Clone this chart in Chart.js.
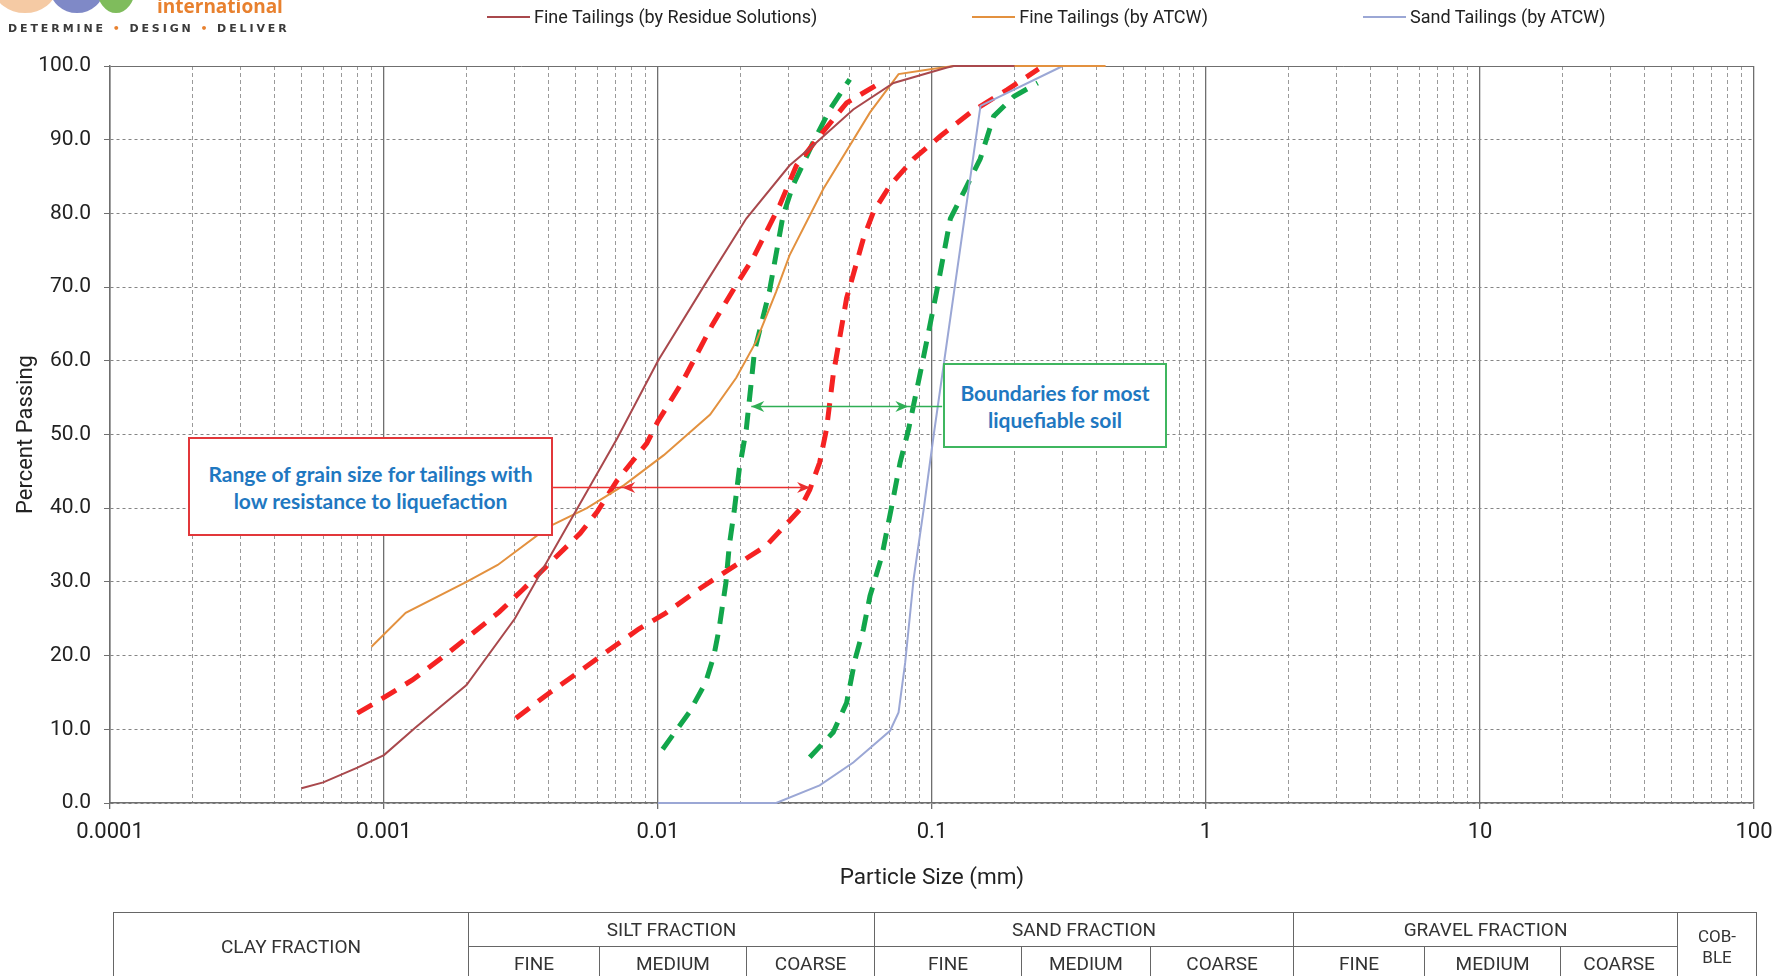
<!DOCTYPE html>
<html>
<head>
<meta charset="utf-8">
<title>Particle size distribution - tailings</title>
<script src="https://cdn.jsdelivr.net/npm/chart.js@4.4.1/dist/chart.umd.min.js"></script>
<style>
    html, body { margin: 0; padding: 0; background: #fff; }
    body { width: 1783px; height: 976px; overflow: hidden; position: relative; font-family: Roboto, "Noto Sans", sans-serif; }
    #wrap { position: absolute; left: 0; top: 0; width: 1783px; height: 976px; }

    /* --- logo (cut off at the top, like the source) --- */
    .petal { position: absolute; top: -36px; height: 49px; border-radius: 50%; }
    .intl { position: absolute; left: 157px; top: -3px; font: bold 19px "Open Sans", sans-serif; color: #e8812f; line-height: 1; }
    .tag { position: absolute; left: 8px; top: 22px; font: bold 11px "DejaVu Sans", sans-serif; color: #3a3a3a; letter-spacing: 2.9px; white-space: nowrap; }
    .tag span { color: #e8812f; }

    /* --- legend --- */
    #legend { position: absolute; left: 487px; top: 6px; display: flex; align-items: center; font-size: 18px; color: #222; white-space: nowrap; }
    #legend .item { display: flex; align-items: center; margin-right: 155px; }
    #legend .swatch { width: 43px; height: 2px; margin-right: 4px; }

    /* --- annotation boxes --- */
    .note { position: absolute; box-sizing: border-box; background: #fff; display: flex; align-items: center; justify-content: center;
            text-align: center; font: bold 21px Lato, sans-serif; line-height: 27px; color: #1f78c1; }
    #noteRed { left: 188px; top: 437px; width: 365px; height: 99px; border: 2px solid #e2373a; }
    #noteGreen { left: 943px; top: 363px; width: 224px; height: 85px; border: 2px solid #3fb65f; }

    /* --- soil fraction table --- */
    #fractions { position: absolute; left: 113px; top: 912px; border-collapse: collapse; table-layout: fixed; width: 1643px; }
    #fractions td { border: 1.5px solid #666; text-align: center; font-size: 19px; color: #333; height: 33px; padding: 0; line-height: 21px; }
</style>
</head>
<body>
<div id="wrap"><canvas id="psd"></canvas></div>

<div class="petal" style="left:-6px;width:62px;background:#f5caa4;"></div>
<div class="petal" style="left:50px;width:54px;background:#7f89c7;"></div>
<div class="petal" style="left:97px;width:38px;background:#7fbc5c;"></div>
<div class="intl">international</div>
<div class="tag">DETERMINE <span>•</span> DESIGN <span>•</span> DELIVER</div>

<div id="legend"></div>

<div class="note" id="noteRed">Range of grain size for tailings with<br>low resistance to liquefaction</div>
<div class="note" id="noteGreen">Boundaries for most<br>liquefiable soil</div>

<table id="fractions">
    <colgroup>
        <col style="width:355px"><col style="width:131px"><col style="width:147px"><col style="width:128px">
        <col style="width:147px"><col style="width:129px"><col style="width:143px">
        <col style="width:131px"><col style="width:136px"><col style="width:117px"><col style="width:79px">
    </colgroup>
    <tr>
        <td rowspan="2">CLAY FRACTION</td>
        <td colspan="3">SILT FRACTION</td>
        <td colspan="3">SAND FRACTION</td>
        <td colspan="3">GRAVEL FRACTION</td>
        <td rowspan="2" style="font-size:17px">COB-<br>BLE</td>
    </tr>
    <tr>
        <td>FINE</td><td>MEDIUM</td><td>COARSE</td>
        <td>FINE</td><td>MEDIUM</td><td>COARSE</td>
        <td>FINE</td><td>MEDIUM</td><td>COARSE</td>
    </tr>
</table>

<script>
// ===========================================
// DATA
// ===========================================

// x axis: particle size (mm), log scale, one label per decade
const xTickLabels = ['0.0001', '0.001', '0.01', '0.1', '1', '10', '100'];
// y axis: percent passing
const yMin = 0, yMax = 100, yStep = 10;

// Fine Tailings (by Residue Solutions)
const residueSize = [0.0005, 0.0006, 0.0008, 0.001, 0.0013, 0.002, 0.003, 0.004, 0.0071, 0.01, 0.0148, 0.021, 0.0302, 0.0368, 0.0516, 0.0724, 0.1135, 0.12, 0.2];
const residuePass = [2.0, 2.8, 4.8, 6.5, 10.2, 16.0, 25.0, 33.2, 49.5, 60.0, 70.3, 79.3, 86.5, 89.2, 94.1, 97.7, 99.8, 100, 100];

// Fine Tailings (by ATCW)
const atcwFineSize = [0.0009, 0.0012, 0.002, 0.0026, 0.004, 0.0055, 0.0075, 0.0105, 0.0155, 0.0193, 0.0228, 0.027, 0.0302, 0.0401, 0.0594, 0.0755, 0.1, 0.12, 0.43];
const atcwFinePass = [21.2, 25.8, 30.0, 32.3, 37.5, 40.0, 43.1, 47.2, 52.7, 57.7, 62.6, 69.4, 74.3, 83.3, 93.7, 98.9, 99.6, 100, 100];

// Sand Tailings (by ATCW)
const atcwSandSize = [0.01, 0.027, 0.0389, 0.0516, 0.0703, 0.0755, 0.0798, 0.0857, 0.0932, 0.1015, 0.1503, 0.3];
const atcwSandPass = [0, 0, 2.4, 5.5, 9.8, 12.3, 19.0, 30.4, 39.8, 50.0, 94.6, 100];

// range for tailings with low resistance to liquefaction (red dashed)
const lowResLowerSize = [0.0008, 0.00095, 0.00127, 0.00168, 0.00207, 0.00263, 0.0032, 0.0052, 0.006, 0.0071, 0.0091, 0.01, 0.0123, 0.0158, 0.0193, 0.0222, 0.0278, 0.032, 0.0389, 0.0488, 0.0646];
const lowResLowerPass = [12.2, 13.8, 16.7, 20.1, 22.8, 25.9, 28.9, 36.6, 39.5, 43.8, 48.8, 51.8, 57.2, 64.9, 70.3, 73.9, 81.1, 86.5, 90.5, 95.0, 97.7];
const lowResUpperSize = [0.00303, 0.004, 0.00515, 0.00643, 0.0085, 0.0107, 0.0141, 0.0182, 0.0248, 0.0302, 0.0329, 0.0358, 0.0389, 0.0412, 0.0436, 0.0488, 0.0562, 0.0611, 0.0703, 0.0857, 0.1074, 0.1384, 0.1884, 0.245];
const lowResUpperPass = [11.5, 14.9, 17.8, 20.4, 23.6, 25.8, 29.0, 31.7, 34.9, 38.3, 39.8, 42.5, 46.2, 50.7, 58.1, 68.5, 76.6, 80.2, 83.8, 87.4, 90.5, 93.7, 96.8, 99.6];

// boundaries for most liquefiable soil (green dashed)
const liqLowerSize = [0.0104, 0.013, 0.0149, 0.016, 0.0167, 0.0177, 0.0182, 0.019, 0.0198, 0.021, 0.0225, 0.0255, 0.0286, 0.0311, 0.0368, 0.0424, 0.0501];
const liqLowerPass = [7.3, 12.3, 16.3, 20.0, 23.6, 29.9, 34.9, 39.8, 45.3, 50.7, 61.3, 69.4, 79.7, 83.8, 89.6, 94.1, 98.2];
const liqUpperSize = [0.0358, 0.0436, 0.0488, 0.0524, 0.0562, 0.0594, 0.0656, 0.0713, 0.0765, 0.082, 0.093, 0.104, 0.1167, 0.1306, 0.15, 0.168, 0.1995, 0.243];
const liqUpperPass = [6.2, 9.6, 13.6, 19.5, 23.6, 28.1, 33.5, 40.3, 46.2, 50.6, 60.4, 69.4, 79.3, 82.9, 87.4, 93.2, 95.9, 97.7];

// annotation arrows: [start, end] of the line, heads (first points left, second right), percent level
const redArrowLine = [0.00414, 0.0359];
const redArrowHeads = [0.0074, 0.0359];
const redArrowAt = 42.8;
const greenArrowLine = [0.0219, 0.1089];
const greenArrowHeads = [0.0219, 0.082];
const greenArrowAt = 53.8;

// ===========================================
// HELPERS
// ===========================================

const pts = (xs, ys) => xs.map((x, i) => ({ x: x, y: ys[i] }));
const decades = xTickLabels.map(Number);

// 1..9 x 10^n ticks, decades flagged as major
function buildLogTicks(scale) {
    const ticks = [];
    decades.forEach((d, i) => {
        ticks.push({ value: d, major: true });
        if (i < decades.length - 1) {
            for (let k = 2; k <= 9; k++) ticks.push({ value: +(d * k).toPrecision(3), major: false });
        }
    });
    scale.ticks = ticks;
}

function decadeLabel(value) {
    const i = decades.findIndex(d => Math.abs(d - value) / d < 1e-6);
    return i >= 0 ? xTickLabels[i] : '';
}

function drawSpan(ctx, x, y, line, heads, at, color) {
    const py = y.getPixelForValue(at);
    ctx.save();
    ctx.strokeStyle = color;
    ctx.fillStyle = color;
    ctx.lineWidth = 1.6;
    ctx.beginPath();
    ctx.moveTo(x.getPixelForValue(line[0]), py);
    ctx.lineTo(x.getPixelForValue(line[1]), py);
    ctx.stroke();
    heads.forEach((h, i) => {
        const px = x.getPixelForValue(h);
        const dir = i === 0 ? -1 : 1;
        ctx.beginPath();
        ctx.moveTo(px, py);
        ctx.lineTo(px - dir * 13, py - 5.5);
        ctx.lineTo(px - dir * 9, py);
        ctx.lineTo(px - dir * 13, py + 5.5);
        ctx.closePath();
        ctx.fill();
    });
    ctx.restore();
}

// arrows between the annotation boxes and the curves
const arrowPlugin = {
    id: 'rangeArrows',
    afterDatasetsDraw(chart) {
        const { ctx, scales } = chart;
        drawSpan(ctx, scales.x, scales.y, redArrowLine, redArrowHeads, redArrowAt, '#ea3030');
        drawSpan(ctx, scales.x, scales.y, greenArrowLine, greenArrowHeads, greenArrowAt, '#2fae55');
    }
};

// legend spread out over the top, like the source
const htmlLegend = {
    id: 'htmlLegend',
    afterUpdate(chart) {
        const box = document.getElementById('legend');
        box.innerHTML = '';
        chart.data.datasets.forEach(ds => {
            if (!ds.inLegend) return;
            const item = document.createElement('div');
            item.className = 'item';
            const sw = document.createElement('span');
            sw.className = 'swatch';
            sw.style.background = ds.borderColor;
            const txt = document.createElement('span');
            txt.textContent = ds.label;
            item.appendChild(sw);
            item.appendChild(txt);
            box.appendChild(item);
        });
    }
};

// ===========================================
// CHART
// ===========================================

const solid = (label, xs, ys, color) => ({
    label: label, data: pts(xs, ys), borderColor: color, borderWidth: 2, inLegend: true, clip: 4
});
const dashed = (label, xs, ys, color) => ({
    label: label, data: pts(xs, ys), borderColor: color, borderWidth: 5, borderDash: [17, 11], borderCapStyle: 'butt', inLegend: false
});

new Chart(document.getElementById('psd'), {
    type: 'line',
    data: {
        datasets: [
            solid('Fine Tailings (by Residue Solutions)', residueSize, residuePass, '#a9484c'),
            solid('Fine Tailings (by ATCW)', atcwFineSize, atcwFinePass, '#e3913f'),
            solid('Sand Tailings (by ATCW)', atcwSandSize, atcwSandPass, '#9ba7d5'),
            dashed('Low resistance - lower', lowResLowerSize, lowResLowerPass, '#f52222'),
            dashed('Low resistance - upper', lowResUpperSize, lowResUpperPass, '#f52222'),
            dashed('Most liquefiable - lower', liqLowerSize, liqLowerPass, '#12a64b'),
            dashed('Most liquefiable - upper', liqUpperSize, liqUpperPass, '#12a64b')
        ]
    },
    options: {
        responsive: true,
        maintainAspectRatio: false,
        animation: false,
        layout: { padding: { top: 66, right: 29, bottom: 84, left: 0 } },
        elements: { point: { radius: 0 }, line: { tension: 0, fill: false } },
        plugins: { legend: { display: false }, tooltip: { enabled: false } },
        scales: {
            x: {
                type: 'logarithmic',
                min: 0.0001,
                max: 100,
                afterBuildTicks: buildLogTicks,
                afterFit: s => { s.height = 89; },
                ticks: { autoSkip: false, maxRotation: 0, minRotation: 0, padding: 10, color: '#222', font: { family: 'Roboto', size: 22 }, callback: v => decadeLabel(v) },
                grid: {
                    color: c => c.tick && c.tick.major ? '#6f6f6f' : '#9a9a9a',
                    lineWidth: c => c.tick && c.tick.major ? 1.3 : 1,
                    tickLength: 6,
                    tickColor: c => c.tick && c.tick.major ? '#6f6f6f' : 'rgba(0,0,0,0)'
                },
                border: { color: '#6f6f6f', width: 1.5, dash: c => c.tick && c.tick.major ? [] : [4, 3] },
                title: { display: true, text: 'Particle Size (mm)', color: '#222', font: { family: 'Roboto', size: 22.5 }, padding: { top: 0, bottom: 0 } }
            },
            y: {
                min: yMin,
                max: yMax,
                afterFit: s => { s.width = 110; },
                ticks: { stepSize: yStep, padding: 13, color: '#222', font: { family: 'Roboto', size: 21 }, callback: v => v.toFixed(1) },
                grid: { color: c => c.tick && c.tick.value === yMax ? '#6f6f6f' : '#858585', lineWidth: 1, tickLength: 6, tickColor: '#6f6f6f' },
                border: { color: '#6f6f6f', width: 1.5, dash: c => c.tick && c.tick.value === yMax ? [] : [3, 3] },
                title: { display: true, text: 'Percent Passing', color: '#222', font: { family: 'Roboto', size: 22 }, padding: { top: 13, bottom: 0 } }
            }
        }
    },
    plugins: [arrowPlugin, htmlLegend]
});
</script>
</body>
</html>
